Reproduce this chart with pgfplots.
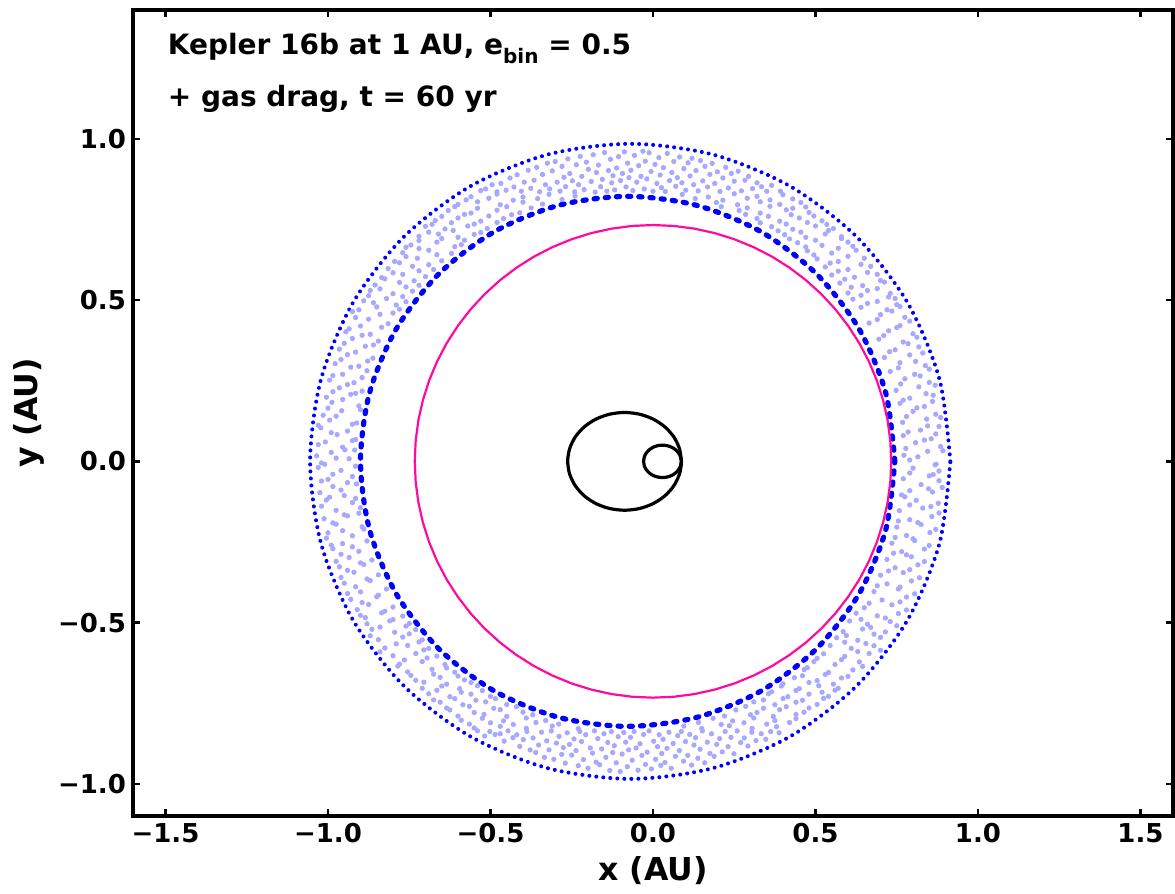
\documentclass[border=0pt]{standalone}
\usepackage{pgfplots}
\pgfplotsset{compat=1.18}
\usepackage{fontspec}
\setmainfont{DejaVu Sans}
\definecolor{magc}{RGB}{255,10,160}
\definecolor{lightb}{RGB}{168,168,255}
\pgfplotstableread{
x y
0.790 0.004
0.871 -0.009
-0.935 0.008
-1.020 -0.005
0.845 0.031
0.772 0.019
-0.990 0.028
-0.918 0.035
0.885 0.046
0.808 0.058
-1.030 0.052
-0.955 0.044
0.770 0.080
0.856 0.070
-0.972 0.083
-0.915 0.068
0.823 0.097
0.880 0.108
-1.022 0.104
-0.940 0.094
0.768 0.121
0.842 0.131
-0.995 0.128
-0.912 0.119
0.800 0.155
0.870 0.146
-1.015 0.143
-0.958 0.157
0.760 0.180
0.835 0.170
-0.905 0.172
-0.988 0.183
0.862 0.205
0.790 0.196
-1.005 0.199
-0.930 0.208
0.748 0.220
0.818 0.231
-0.965 0.228
-0.895 0.218
0.850 0.245
0.775 0.256
-0.995 0.252
-0.920 0.244
0.730 0.279
0.805 0.270
-0.880 0.281
-0.955 0.270
0.838 0.297
0.760 0.306
-0.978 0.303
-0.905 0.295
0.712 0.322
0.790 0.330
-0.862 0.320
-0.940 0.331
0.818 0.355
0.745 0.346
-0.965 0.348
-0.885 0.357
0.695 0.379
0.770 0.370
-0.845 0.373
-0.925 0.381
0.800 0.396
0.725 0.405
-0.945 0.402
-0.870 0.394
0.665 0.429
0.760 0.421
-0.815 0.427
-0.900 0.420
0.775 0.447
0.700 0.455
-0.915 0.446
-0.840 0.456
0.640 0.478
0.720 0.470
0.760 0.480
-0.780 0.472
-0.850 0.479
-0.905 0.470
0.615 0.503
0.690 0.496
0.745 0.505
-0.890 0.498
-0.820 0.505
-0.760 0.495
0.600 0.522
0.660 0.530
0.730 0.521
-0.740 0.528
-0.800 0.520
-0.870 0.530
0.575 0.553
0.645 0.545
0.712 0.556
-0.855 0.547
-0.780 0.555
-0.720 0.546
0.550 0.578
0.620 0.571
0.690 0.580
-0.700 0.573
-0.770 0.580
-0.835 0.570
0.530 0.603
0.600 0.595
0.670 0.605
-0.815 0.598
-0.740 0.605
-0.675 0.595
0.505 0.628
0.570 0.620
0.650 0.630
-0.650 0.622
-0.725 0.630
-0.795 0.620
0.475 0.653
0.550 0.646
0.625 0.655
-0.770 0.647
-0.690 0.655
-0.620 0.645
0.445 0.678
0.520 0.670
0.600 0.680
-0.590 0.672
-0.665 0.680
-0.745 0.671
0.405 0.703
0.470 0.695
0.530 0.705
0.580 0.697
-0.720 0.698
-0.660 0.705
-0.600 0.695
-0.550 0.704
0.365 0.728
0.430 0.720
0.500 0.730
0.555 0.722
-0.510 0.722
-0.570 0.730
-0.640 0.721
-0.700 0.729
0.320 0.753
0.390 0.745
0.450 0.755
0.520 0.746
-0.670 0.747
-0.600 0.755
-0.530 0.745
-0.460 0.753
0.265 0.778
0.330 0.770
0.410 0.780
0.480 0.772
-0.410 0.771
-0.480 0.779
-0.560 0.770
-0.630 0.778
0.195 0.803
0.260 0.796
0.330 0.805
0.390 0.797
0.455 0.803
-0.600 0.797
-0.540 0.805
-0.470 0.796
-0.400 0.804
-0.340 0.798
0.090 0.828
0.170 0.820
0.250 0.830
0.320 0.822
0.400 0.827
-0.560 0.821
-0.480 0.829
-0.400 0.820
-0.320 0.828
-0.240 0.823
0.800 -0.021
0.880 -0.030
-0.960 -0.028
-1.030 -0.019
0.770 -0.054
0.850 -0.045
-0.925 -0.047
-1.000 -0.056
0.825 -0.072
0.890 -0.081
-0.985 -0.078
-0.912 -0.070
0.765 -0.104
0.860 -0.095
-1.025 -0.097
-0.950 -0.106
0.810 -0.121
0.878 -0.130
-0.925 -0.128
-1.005 -0.120
0.758 -0.153
0.830 -0.145
-0.975 -0.152
-0.900 -0.144
0.858 -0.171
0.790 -0.181
-1.012 -0.178
-0.940 -0.169
0.750 -0.204
0.825 -0.196
-0.895 -0.203
-0.975 -0.195
0.852 -0.221
0.780 -0.230
-1.000 -0.222
-0.925 -0.231
0.735 -0.254
0.805 -0.246
-0.880 -0.247
-0.955 -0.255
0.835 -0.272
0.765 -0.280
-0.985 -0.271
-0.905 -0.279
0.720 -0.304
0.795 -0.296
-0.935 -0.298
-0.865 -0.306
0.815 -0.321
0.745 -0.330
-0.965 -0.327
-0.890 -0.320
0.700 -0.353
0.770 -0.345
-0.845 -0.352
-0.920 -0.344
0.795 -0.371
0.720 -0.380
-0.950 -0.378
-0.870 -0.370
0.680 -0.404
0.755 -0.396
-0.820 -0.396
-0.900 -0.405
0.780 -0.421
0.705 -0.430
-0.930 -0.428
-0.850 -0.420
0.650 -0.454
0.735 -0.445
-0.800 -0.452
-0.875 -0.444
0.625 -0.471
0.690 -0.479
0.755 -0.472
-0.900 -0.478
-0.835 -0.470
-0.770 -0.480
0.730 -0.497
0.660 -0.505
0.605 -0.495
-0.750 -0.503
-0.810 -0.495
-0.880 -0.504
0.585 -0.528
0.645 -0.520
0.715 -0.529
-0.865 -0.521
-0.795 -0.530
-0.730 -0.522
0.700 -0.546
0.630 -0.555
0.565 -0.547
-0.710 -0.554
-0.770 -0.545
-0.845 -0.553
0.545 -0.571
0.610 -0.580
0.680 -0.572
-0.825 -0.579
-0.755 -0.571
-0.690 -0.580
0.665 -0.596
0.590 -0.605
0.525 -0.597
-0.665 -0.604
-0.730 -0.596
-0.800 -0.603
0.495 -0.621
0.560 -0.630
0.635 -0.622
-0.780 -0.629
-0.710 -0.621
-0.640 -0.630
0.615 -0.647
0.540 -0.655
0.465 -0.646
-0.610 -0.654
-0.680 -0.645
-0.755 -0.653
0.435 -0.671
0.505 -0.680
0.580 -0.672
-0.730 -0.679
-0.655 -0.670
-0.580 -0.678
0.395 -0.697
0.450 -0.705
0.510 -0.696
0.570 -0.704
-0.540 -0.696
-0.595 -0.705
-0.650 -0.697
-0.710 -0.704
0.355 -0.721
0.415 -0.730
0.480 -0.722
0.540 -0.729
-0.690 -0.721
-0.625 -0.730
-0.560 -0.722
-0.500 -0.729
0.310 -0.746
0.375 -0.755
0.440 -0.747
0.505 -0.754
-0.450 -0.754
-0.515 -0.746
-0.585 -0.755
-0.655 -0.747
0.255 -0.771
0.320 -0.779
0.390 -0.770
0.465 -0.778
-0.625 -0.771
-0.550 -0.779
-0.470 -0.770
-0.400 -0.778
0.185 -0.797
0.245 -0.805
0.310 -0.796
0.375 -0.804
0.440 -0.798
-0.330 -0.804
-0.390 -0.796
-0.460 -0.805
-0.525 -0.797
-0.590 -0.803
0.095 -0.821
0.150 -0.829
0.235 -0.820
0.305 -0.828
0.380 -0.823
-0.230 -0.829
-0.310 -0.821
-0.390 -0.828
-0.470 -0.822
-0.550 -0.827
}\scatterA
\pgfplotstableread{
x y
0.815 0.014
-0.975 0.010
-1.035 0.017
0.778 0.040
0.892 0.033
-0.948 0.036
0.835 0.066
-1.008 0.060
-0.925 0.064
0.785 0.091
0.870 0.085
-0.990 0.089
0.845 0.110
-0.925 0.115
-1.030 0.112
0.780 0.139
0.885 0.136
-0.975 0.140
0.812 0.166
-0.900 0.160
-1.000 0.165
0.770 0.190
0.860 0.186
-0.955 0.192
0.840 0.210
-0.985 0.216
-0.915 0.211
0.762 0.240
0.868 0.236
-0.940 0.238
0.822 0.265
-0.895 0.260
-0.985 0.266
0.755 0.290
0.850 0.286
-0.930 0.292
0.808 0.310
-0.960 0.316
-0.878 0.311
0.728 0.340
0.830 0.336
-0.915 0.339
0.785 0.365
-0.860 0.361
-0.950 0.366
0.710 0.390
0.812 0.385
-0.895 0.391
0.750 0.415
-0.935 0.411
-0.835 0.416
0.690 0.440
0.790 0.435
-0.875 0.441
0.735 0.466
-0.800 0.460
-0.925 0.465
0.660 0.490
0.750 0.486
-0.860 0.492
-0.790 0.485
0.640 0.515
0.725 0.510
-0.875 0.514
-0.770 0.511
0.610 0.540
0.690 0.536
-0.760 0.541
-0.840 0.535
0.590 0.565
0.700 0.561
-0.825 0.566
-0.735 0.560
0.570 0.590
0.660 0.586
-0.720 0.591
-0.800 0.585
0.545 0.615
0.640 0.611
-0.780 0.616
-0.690 0.610
0.495 0.640
0.600 0.636
-0.665 0.641
-0.760 0.635
0.470 0.665
0.570 0.661
0.615 0.667
-0.610 0.666
-0.720 0.660
-0.760 0.664
0.420 0.690
0.500 0.686
0.580 0.691
-0.580 0.686
-0.650 0.691
-0.720 0.685
0.385 0.715
0.455 0.711
0.540 0.716
-0.530 0.710
-0.615 0.716
-0.690 0.711
0.330 0.740
0.410 0.736
0.475 0.741
0.535 0.735
-0.480 0.741
-0.550 0.736
-0.620 0.740
-0.680 0.735
0.285 0.766
0.355 0.760
0.425 0.765
0.495 0.761
-0.650 0.760
-0.580 0.766
-0.505 0.761
-0.435 0.765
0.210 0.790
0.290 0.786
0.360 0.791
0.430 0.785
0.470 0.789
-0.610 0.790
-0.540 0.785
-0.450 0.790
-0.375 0.786
0.130 0.815
0.215 0.810
0.290 0.816
0.360 0.811
0.430 0.814
-0.575 0.811
-0.505 0.816
-0.430 0.810
-0.355 0.815
-0.280 0.812
0.868 -0.011
-0.915 -0.015
-1.010 -0.009
0.790 -0.036
0.862 -0.041
-0.985 -0.040
0.880 -0.060
-0.940 -0.066
-1.020 -0.061
0.790 -0.091
0.848 -0.085
-0.960 -0.089
0.775 -0.110
-0.915 -0.115
-0.995 -0.111
0.855 -0.140
0.790 -0.135
-1.020 -0.139
0.880 -0.160
-0.950 -0.166
-0.905 -0.161
0.815 -0.190
0.755 -0.185
-0.985 -0.191
0.870 -0.211
-0.955 -0.215
-0.890 -0.210
0.800 -0.240
0.745 -0.236
-1.005 -0.238
0.850 -0.261
-0.925 -0.265
-0.990 -0.260
0.780 -0.290
0.740 -0.285
-0.960 -0.288
0.835 -0.311
-0.900 -0.315
-0.975 -0.310
0.725 -0.340
0.790 -0.336
-0.940 -0.338
0.820 -0.361
-0.880 -0.365
-0.960 -0.360
0.760 -0.390
0.690 -0.386
-0.915 -0.389
0.805 -0.411
-0.845 -0.415
-0.940 -0.410
0.665 -0.440
0.760 -0.436
-0.895 -0.438
0.780 -0.461
-0.825 -0.465
-0.910 -0.460
0.640 -0.490
0.715 -0.486
-0.800 -0.491
-0.885 -0.485
0.670 -0.515
0.750 -0.510
-0.840 -0.514
-0.760 -0.511
0.595 -0.540
0.680 -0.536
-0.870 -0.541
-0.750 -0.535
0.655 -0.565
0.590 -0.561
-0.790 -0.566
-0.720 -0.560
0.630 -0.590
0.700 -0.586
-0.840 -0.591
-0.705 -0.585
0.580 -0.615
0.505 -0.611
-0.765 -0.616
-0.695 -0.610
0.475 -0.640
0.645 -0.636
-0.635 -0.641
-0.785 -0.635
0.460 -0.665
0.530 -0.661
0.600 -0.667
-0.600 -0.666
-0.675 -0.660
-0.745 -0.664
0.400 -0.690
0.480 -0.686
0.555 -0.691
-0.560 -0.686
-0.635 -0.691
-0.705 -0.685
0.365 -0.715
0.440 -0.711
0.520 -0.716
0.560 -0.710
-0.525 -0.711
-0.590 -0.716
-0.665 -0.710
0.340 -0.740
0.400 -0.736
0.460 -0.741
0.525 -0.735
-0.485 -0.736
-0.545 -0.741
-0.610 -0.736
-0.675 -0.740
0.285 -0.760
0.340 -0.766
0.410 -0.761
0.480 -0.765
-0.420 -0.761
-0.490 -0.766
-0.565 -0.760
-0.635 -0.765
0.220 -0.790
0.300 -0.786
0.370 -0.791
0.440 -0.785
-0.370 -0.786
-0.450 -0.791
-0.520 -0.785
-0.600 -0.790
0.140 -0.810
0.210 -0.816
0.280 -0.811
0.350 -0.815
0.420 -0.810
-0.290 -0.815
-0.360 -0.810
-0.430 -0.816
-0.500 -0.811
-0.565 -0.815
}\scatterB
\pgfplotstableread{
x y
-0.530 0.840
-0.515 0.845
-0.495 0.858
-0.480 0.836
-0.468 0.862
-0.452 0.841
-0.440 0.879
-0.428 0.851
-0.418 0.889
-0.405 0.838
-0.396 0.866
-0.384 0.903
-0.376 0.847
-0.366 0.872
-0.358 0.912
-0.349 0.836
-0.340 0.890
-0.331 0.858
-0.325 0.925
-0.318 0.845
-0.310 0.901
-0.301 0.930
-0.295 0.866
-0.286 0.838
-0.280 0.915
-0.274 0.881
-0.269 0.852
-0.262 0.938
-0.256 0.893
-0.248 0.870
-0.241 0.836
-0.236 0.920
-0.229 0.858
-0.224 0.946
-0.219 0.884
-0.212 0.843
-0.205 0.928
-0.199 0.906
-0.190 0.868
-0.184 0.951
-0.178 0.835
-0.174 0.896
-0.168 0.919
-0.161 0.852
-0.156 0.875
-0.149 0.958
-0.142 0.838
-0.137 0.902
-0.131 0.937
-0.127 0.864
-0.123 0.886
-0.118 0.842
-0.112 0.910
-0.106 0.945
-0.100 0.871
-0.094 0.893
-0.088 0.960
-0.083 0.851
-0.078 0.925
-0.074 0.880
-0.068 0.903
-0.062 0.840
-0.057 0.949
-0.050 0.866
-0.044 0.917
-0.037 0.884
-0.031 0.962
-0.027 0.845
-0.024 0.931
-0.019 0.876
-0.012 0.957
-0.006 0.899
0.000 0.838
0.006 0.921
0.012 0.862
0.018 0.942
0.022 0.888
0.026 0.849
0.032 0.911
0.038 0.837
0.044 0.955
0.051 0.871
0.058 0.896
0.064 0.930
0.070 0.853
0.075 0.880
0.082 0.944
0.089 0.864
0.095 0.908
0.101 0.841
0.108 0.926
0.114 0.885
0.120 0.940
0.125 0.858
0.132 0.902
0.139 0.839
0.146 0.933
0.153 0.870
0.160 0.915
0.168 0.851
0.175 0.890
0.182 0.924
0.190 0.862
0.198 0.898
0.206 0.837
0.215 0.879
0.224 0.912
0.232 0.848
0.241 0.893
0.250 0.869
0.262 0.900
0.272 0.839
0.283 0.872
0.294 0.884
0.306 0.846
0.320 0.864
0.334 0.852
0.350 0.838
0.365 0.856
0.392 0.838
-0.540 -0.836
-0.518 -0.852
-0.502 -0.838
-0.486 -0.847
-0.470 -0.845
-0.458 -0.868
-0.446 -0.836
-0.431 -0.857
-0.419 -0.848
-0.410 -0.884
-0.399 -0.863
-0.388 -0.838
-0.378 -0.895
-0.369 -0.858
-0.361 -0.903
-0.352 -0.880
-0.343 -0.840
-0.334 -0.918
-0.327 -0.867
-0.320 -0.895
-0.313 -0.836
-0.305 -0.924
-0.297 -0.874
-0.289 -0.853
-0.281 -0.909
-0.276 -0.888
-0.270 -0.936
-0.264 -0.842
-0.257 -0.878
-0.250 -0.911
-0.243 -0.861
-0.237 -0.897
-0.230 -0.944
-0.225 -0.838
-0.220 -0.869
-0.214 -0.925
-0.207 -0.848
-0.200 -0.952
-0.193 -0.889
-0.186 -0.905
-0.180 -0.836
-0.175 -0.933
-0.170 -0.860
-0.164 -0.941
-0.158 -0.892
-0.151 -0.845
-0.145 -0.918
-0.139 -0.872
-0.133 -0.959
-0.128 -0.838
-0.124 -0.903
-0.119 -0.882
-0.113 -0.935
-0.107 -0.854
-0.101 -0.962
-0.095 -0.908
-0.090 -0.841
-0.084 -0.871
-0.079 -0.947
-0.075 -0.895
-0.069 -0.856
-0.064 -0.927
-0.058 -0.838
-0.052 -0.889
-0.046 -0.958
-0.040 -0.876
-0.034 -0.912
-0.029 -0.847
-0.023 -0.940
-0.018 -0.902
-0.012 -0.836
-0.005 -0.954
0.002 -0.868
0.008 -0.924
0.014 -0.885
0.019 -0.848
0.024 -0.943
0.027 -0.906
0.031 -0.862
0.037 -0.934
0.043 -0.890
0.049 -0.840
0.056 -0.952
0.062 -0.875
0.069 -0.915
0.076 -0.851
0.081 -0.897
0.087 -0.838
0.094 -0.930
0.100 -0.869
0.107 -0.912
0.113 -0.847
0.119 -0.942
0.126 -0.880
0.131 -0.857
0.138 -0.921
0.145 -0.893
0.152 -0.836
0.159 -0.935
0.167 -0.871
0.175 -0.906
0.180 -0.845
0.188 -0.915
0.196 -0.878
0.205 -0.860
0.213 -0.901
0.222 -0.838
0.231 -0.885
0.240 -0.856
0.249 -0.907
0.259 -0.836
0.270 -0.872
0.281 -0.858
0.292 -0.883
0.304 -0.840
0.317 -0.866
0.333 -0.845
0.347 -0.862
0.362 -0.838
0.388 -0.842
}\scatterC
\begin{document}
\begin{tikzpicture}
\begin{axis}[name=ax, scale only axis, width=520pt, height=403pt,
  xmin=-1.6, xmax=1.6, ymin=-1.1, ymax=1.4,
  axis line style={line width=2pt},
  tick align=inside, xtick pos=both, ytick pos=both,
  xticklabel pos=lower, yticklabel pos=left,
  major tick length=3.5pt, tick style={black, line width=1.25pt},
  xtick={-1.5,-1,-0.5,0,0.5,1,1.5},
  xticklabels={−1.5,−1.0,−0.5,0.0,0.5,1.0,1.5},
  ytick={-1,-0.5,0,0.5,1},
  yticklabels={−1.0,−0.5,0.0,0.5,1.0},
  tick label style={font=\fontsize{13}{15}\selectfont\bfseries},
  xlabel={x (AU)}, ylabel={y (AU)},
  label style={font=\fontsize{15.8}{18}\selectfont\bfseries},
]
\addplot[only marks, mark=*, mark size=1.1pt, color=lightb, mark options={draw=none, fill=lightb}] table {\scatterA};
\addplot[only marks, mark=*, mark size=1.1pt, color=lightb, mark options={draw=none, fill=lightb}] table {\scatterB};
\addplot[only marks, mark=*, mark size=1.1pt, color=lightb, mark options={draw=none, fill=lightb}] table {\scatterC};
\addplot[blue, line width=2pt, smooth, line cap=round, dash pattern=on 0.01pt off 3.5pt] coordinates {
(0.915,0) (0.8814,0.2549) (0.783,0.4925) (0.6265,0.6965) (0.4225,0.853) (0.1849,0.9514)
(-0.07,0.985) (-0.3249,0.9514) (-0.5625,0.853) (-0.7665,0.6965) (-0.923,0.4925) (-1.0214,0.2549)
(-1.055,0) (-1.0214,-0.2549) (-0.923,-0.4925) (-0.7665,-0.6965) (-0.5625,-0.853) (-0.3249,-0.9514)
(-0.07,-0.985) (0.1849,-0.9514) (0.4225,-0.853) (0.6265,-0.6965) (0.783,-0.4925) (0.8814,-0.2549)
(0.915,0)};
\addplot[blue, line width=2.6pt, smooth, line cap=round, dash pattern=on 1.6pt off 4pt] coordinates {
(0.744,0) (0.716,0.2127) (0.6339,0.411) (0.5032,0.5812) (0.333,0.7119) (0.1347,0.794)
(-0.078,0.822) (-0.2907,0.794) (-0.489,0.7119) (-0.6592,0.5812) (-0.7899,0.411) (-0.872,0.2127)
(-0.900,0) (-0.872,-0.2127) (-0.7899,-0.411) (-0.6592,-0.5812) (-0.489,-0.7119) (-0.2907,-0.794)
(-0.078,-0.822) (0.1347,-0.794) (0.333,-0.7119) (0.5032,-0.5812) (0.6339,-0.411) (0.716,-0.2127)
(0.744,0)};
\addplot[magc, line width=1.1pt, line join=round] coordinates {
(0.733,0) (0.7302,0.0639) (0.7219,0.1273) (0.7080,0.1897) (0.6888,0.2507) (0.6643,0.3098)
(0.6348,0.3665) (0.6004,0.4204) (0.5615,0.4712) (0.5183,0.5183) (0.4712,0.5615) (0.4204,0.6004)
(0.3665,0.6348) (0.3098,0.6643) (0.2507,0.6888) (0.1897,0.7080) (0.1273,0.7219) (0.0639,0.7302)
(0,0.733) (-0.0639,0.7302) (-0.1273,0.7219) (-0.1897,0.7080) (-0.2507,0.6888) (-0.3098,0.6643)
(-0.3665,0.6348) (-0.4204,0.6004) (-0.4712,0.5615) (-0.5183,0.5183) (-0.5615,0.4712) (-0.6004,0.4204)
(-0.6348,0.3665) (-0.6643,0.3098) (-0.6888,0.2507) (-0.7080,0.1897) (-0.7219,0.1273) (-0.7302,0.0639)
(-0.733,0) (-0.7302,-0.0639) (-0.7219,-0.1273) (-0.7080,-0.1897) (-0.6888,-0.2507) (-0.6643,-0.3098)
(-0.6348,-0.3665) (-0.6004,-0.4204) (-0.5615,-0.4712) (-0.5183,-0.5183) (-0.4712,-0.5615) (-0.4204,-0.6004)
(-0.3665,-0.6348) (-0.3098,-0.6643) (-0.2507,-0.6888) (-0.1897,-0.7080) (-0.1273,-0.7219) (-0.0639,-0.7302)
(0,-0.733) (0.0639,-0.7302) (0.1273,-0.7219) (0.1897,-0.7080) (0.2507,-0.6888) (0.3098,-0.6643)
(0.3665,-0.6348) (0.4204,-0.6004) (0.4712,-0.5615) (0.5183,-0.5183) (0.5615,-0.4712) (0.6004,-0.4204)
(0.6348,-0.3665) (0.6643,-0.3098) (0.6888,-0.2507) (0.7080,-0.1897) (0.7219,-0.1273) (0.7302,-0.0639)
(0.733,0) (0.7302,0.0639)};
\addplot[black, line width=1.6pt, smooth] coordinates {
(0.0875,0) (0.0815,0.0392) (0.0641,0.0758) (0.0362,0.1072) (0.0,0.1313) (-0.0422,0.1464)
(-0.0875,0.1516) (-0.1328,0.1464) (-0.175,0.1313) (-0.2112,0.1072) (-0.2391,0.0758) (-0.2565,0.0392)
(-0.2625,0) (-0.2565,-0.0392) (-0.2391,-0.0758) (-0.2112,-0.1072) (-0.175,-0.1313) (-0.1328,-0.1464)
(-0.0875,-0.1516) (-0.0422,-0.1464) (0.0,-0.1313) (0.0362,-0.1072) (0.0641,-0.0758) (0.0815,-0.0392)
(0.0875,0) (0.0815,0.0392)};
\addplot[black, line width=1.6pt, smooth] coordinates {
(0.087,0) (0.085,0.013) (0.0792,0.0251) (0.070,0.0355) (0.058,0.0435) (0.044,0.0485)
(0.029,0.0502) (0.014,0.0485) (0.000,0.0435) (-0.012,0.0355) (-0.0212,0.0251) (-0.027,0.013)
(-0.029,0) (-0.027,-0.013) (-0.0212,-0.0251) (-0.012,-0.0355) (0.000,-0.0435) (0.014,-0.0485)
(0.029,-0.0502) (0.044,-0.0485) (0.058,-0.0435) (0.070,-0.0355) (0.0792,-0.0251) (0.085,-0.013)
(0.087,0) (0.085,0.013)};
\node[anchor=base west, inner sep=0pt, font=\fontsize{14}{16}\selectfont\bfseries] at (axis cs:-1.494,1.261) {Kepler 16b at 1 AU, e\raisebox{-0.3em}{\fontsize{10}{12}\selectfont bin} = 0.5};
\node[anchor=base west, inner sep=0pt, font=\fontsize{14}{16}\selectfont\bfseries] at (axis cs:-1.494,1.102) {+ gas drag, t = 60 yr};
\end{axis}
\pgfresetboundingbox
\path ([xshift=-66.5pt,yshift=-39pt]ax.south west) rectangle ([xshift=1pt,yshift=5pt]ax.north east);
\end{tikzpicture}
\end{document}
